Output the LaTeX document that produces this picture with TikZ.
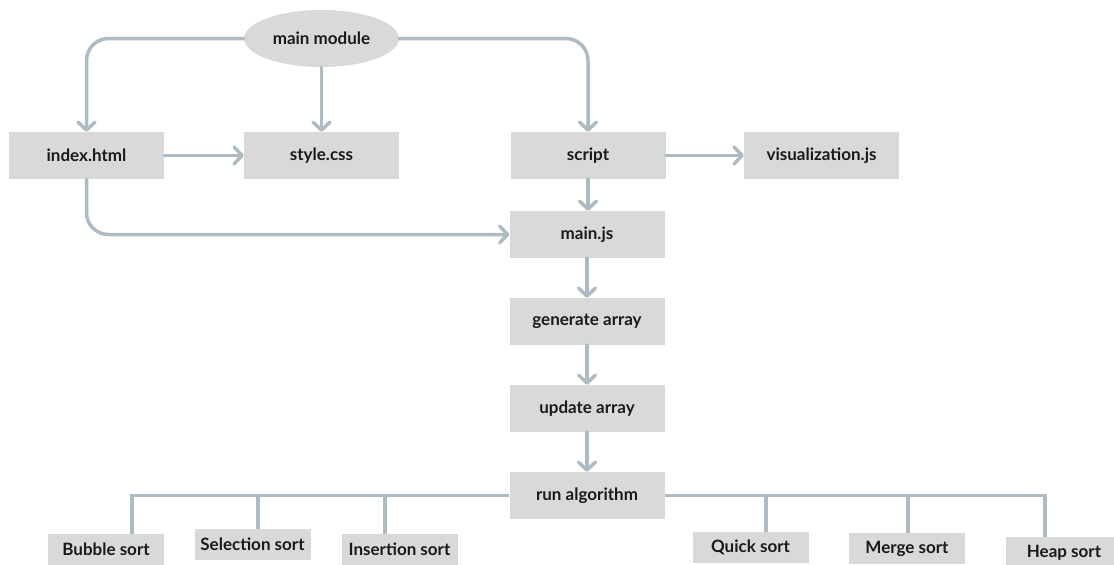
\documentclass[tikz,border=0pt]{standalone}
\usepackage{fontspec}
\setmainfont{Lato}
\usetikzlibrary{arrows.meta,shapes.geometric}
\definecolor{lnc}{HTML}{AEBBC3}
\definecolor{boxc}{HTML}{D9D9D9}
\definecolor{txc}{HTML}{1A1A1A}
\begin{document}
\begin{tikzpicture}[x=1pt,y=-1pt,
  lbl/.style={font=\bfseries\fontsize{17}{19}\selectfont, text=txc},
  box/.style={lbl, rectangle, fill=boxc, minimum width=155pt, minimum height=47pt, inner sep=0pt},
  sbox/.style={box, minimum width=116pt, minimum height=31pt},
  oval/.style={lbl, ellipse, fill=boxc, minimum width=155pt, minimum height=57pt, inner sep=0pt},
  conn/.style={draw=lnc, line width=3.5pt, line cap=round, line join=round},
  branch/.style={draw=lnc, line width=3.3pt},
  arr/.style={conn, -{Straight Barb[length=8pt,width=17pt,round]}},
  ]
\useasboundingbox (0,0) rectangle (1114,565);
\clip (0,0) rectangle (1114,565);

% top level
\node[oval] (mm) at (321.5,38.5) {main module};
\node[box] (idx) at (86.5,155.5) {index.html};
\node[box] (css) at (321.5,155.5) {style.css};
\node[box] (scr) at (588,155.5) {script};
\node[box] (vis) at (821.5,155.5) {visualization.js};

% main column
\node[box] (mjs) at (587,234.5) {main.js};
\node[box] (gen) at (587,321.5) {generate array};
\node[box] (upd) at (587,408.5) {update array};
\node[box] (run) at (587,495.5) {run algorithm};

% algorithms
\node[sbox] (bub) at (106,549.5) {Bubble sort};
\node[sbox] (sel) at (252.5,544.5) {Selection sort};
\node[sbox] (ins) at (399.5,549.5) {Insertion sort};
\node[sbox] (qui) at (750.5,547.5) {Quick sort};
\node[sbox] (mer) at (907,548.5) {Merge sort};
\node[sbox] (hea) at (1064,552.5) {Heap sort};

% connectors top
\draw[arr, rounded corners=22pt] (mm.west) -| (idx.north);
\draw[arr] (mm.south) -- (css.north);
\draw[arr, rounded corners=22pt] (mm.east) -| (scr.north);
\draw[arr] (idx.east) -- (css.west);
\draw[arr] (scr.east) -- (vis.west);
\draw[arr] (scr.south) -- (scr.south |- mjs.north);
\draw[arr, rounded corners=22pt] (idx.south) |- (mjs.west);

% main column
\draw[arr] (mjs.south) -- (gen.north);
\draw[arr] (gen.south) -- (upd.north);
\draw[arr] (upd.south) -- (run.north);

% branches
\coordinate (bl) at (132,495.5);
\coordinate (br) at (1045,495.5);
\draw[branch] (run.west) -- (bl) -- (bl |- bub.north);
\draw[branch] (run.east) -- (br) -- (br |- hea.north);
\coordinate (sj) at (258,495.5);
\coordinate (ij) at (385,495.5);
\coordinate (qj) at (766,495.5);
\coordinate (mj) at (908,495.5);
\draw[branch] (sj) -- (sj |- sel.north);
\draw[branch] (ij) -- (ij |- ins.north);
\draw[branch] (qj) -- (qj |- qui.north);
\draw[branch] (mj) -- (mj |- mer.north);
\end{tikzpicture}
\end{document}
